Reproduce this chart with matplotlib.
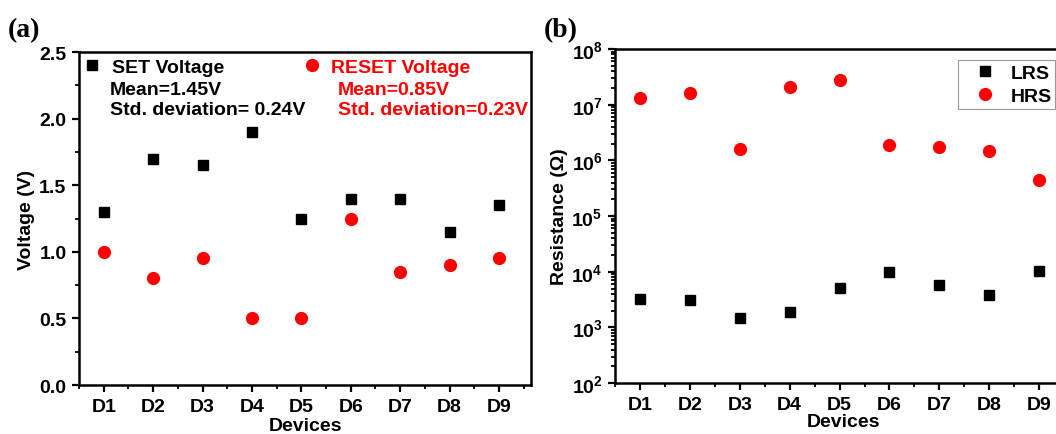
import numpy as np
import matplotlib.pyplot as plt
from matplotlib.ticker import MultipleLocator, FixedLocator, LogLocator, FuncFormatter, NullFormatter
from matplotlib.lines import Line2D

plt.rcParams['font.family'] = ['Liberation Sans', 'DejaVu Sans']
plt.rcParams['font.weight'] = 'bold'
plt.rcParams['mathtext.fontset'] = 'custom'
plt.rcParams['mathtext.rm'] = 'Liberation Sans:bold'
plt.rcParams['mathtext.bf'] = 'Liberation Sans:bold'

devices = ['D1', 'D2', 'D3', 'D4', 'D5', 'D6', 'D7', 'D8', 'D9']
set_v = [1.30, 1.70, 1.65, 1.90, 1.25, 1.40, 1.40, 1.15, 1.35]
reset_v = [1.00, 0.80, 0.95, 0.50, 0.50, 1.25, 0.85, 0.90, 0.95]
lrs = [3.3e3, 3.1e3, 1.5e3, 1.9e3, 5.1e3, 9.8e3, 5.7e3, 3.8e3, 1.05e4]
hrs = [1.3e7, 1.6e7, 1.6e6, 2.1e7, 2.8e7, 1.9e6, 1.75e6, 1.5e6, 4.5e5]

x = np.arange(1, len(devices) + 1)
FS = 14

fig = plt.figure(figsize=(10.56, 4.35), dpi=100)
ax1 = fig.add_axes([0.0748, 0.1126, 0.4282, 0.7654])
ax2 = fig.add_axes([0.5824, 0.117, 0.4324, 0.768])


def style(ax, lp):
    for s in ax.spines.values():
        s.set_linewidth(1.8)
    ax.tick_params(which='major', direction='out', length=5, width=1.6,
                   labelsize=FS, top=False, right=False, pad=4)
    ax.tick_params(which='minor', direction='out', length=3, width=1.3,
                   top=False, right=False)
    ax.set_xlim(0.5, 9.65)
    ax.set_xticks(x)
    ax.set_xticklabels(devices)
    ax.xaxis.set_minor_locator(FixedLocator(np.arange(0.5, 9.6, 1.0)))
    ax.set_xlabel('Devices', fontsize=FS, fontweight='bold', labelpad=lp)


# (a) voltages
ax1.plot(x, set_v, 's', color='black', markersize=7.5, linestyle='none')
ax1.plot(x, reset_v, 'o', color='red', markersize=8.5, linestyle='none')
style(ax1, 1.5)
ax1.set_ylim(0, 2.5)
ax1.yaxis.set_major_locator(MultipleLocator(0.5))
ax1.yaxis.set_minor_locator(MultipleLocator(0.25))
ax1.yaxis.set_major_formatter(FuncFormatter(lambda v, p: '%.1f' % v))
ax1.set_ylabel('Voltage (V)', fontsize=FS, fontweight='bold', labelpad=3)

h_set = Line2D([], [], marker='s', color='black', markersize=7, linestyle='none')
h_reset = Line2D([], [], marker='o', color='red', markersize=8.5, linestyle='none')
leg1 = ax1.legend([h_set], ['SET Voltage'], loc='center left', frameon=False,
                  fontsize=FS, handletextpad=0.43, handlelength=1.2,
                  bbox_to_anchor=(0.003, 0.954), borderaxespad=0, borderpad=0)
ax1.add_artist(leg1)
leg2 = ax1.legend([h_reset], ['RESET Voltage'], loc='center left', frameon=False,
                  fontsize=FS, handletextpad=0.38, handlelength=1.2,
                  bbox_to_anchor=(0.49, 0.954), borderaxespad=0, borderpad=0)
for t in leg2.get_texts():
    t.set_color('red')
ax1.text(0.069, 0.887, 'Mean=1.45V', transform=ax1.transAxes, fontsize=FS,
         fontweight='bold', va='center')
ax1.text(0.069, 0.827, 'Std. deviation= 0.24V', transform=ax1.transAxes,
         fontsize=FS, fontweight='bold', va='center')
ax1.text(0.573, 0.887, 'Mean=0.85V', transform=ax1.transAxes, fontsize=FS,
         fontweight='bold', va='center', color='red')
ax1.text(0.573, 0.827, 'Std. deviation=0.23V', transform=ax1.transAxes,
         fontsize=FS, fontweight='bold', va='center', color='red')

# (b) resistances
ax2.plot(x, lrs, 's', color='black', markersize=7.5, linestyle='none', label='LRS')
ax2.plot(x, hrs, 'o', color='red', markersize=8.5, linestyle='none', label='HRS')
ax2.set_yscale('log')
style(ax2, 0.3)
ax2.set_ylim(1e2, 1e8)
ax2.yaxis.set_major_locator(LogLocator(base=10, numticks=10))
ax2.yaxis.set_minor_locator(LogLocator(base=10, subs=np.arange(2, 10), numticks=20))
ax2.yaxis.set_minor_formatter(NullFormatter())
ax2.yaxis.set_major_formatter(FuncFormatter(lambda v, p: r'$\mathbf{10^{%d}}$' % round(np.log10(v))))
ax2.set_ylabel('Resistance (\u03a9)', fontsize=FS, fontweight='bold', labelpad=2)
leg = ax2.legend(loc='upper left', fontsize=FS, fancybox=False, edgecolor='gray',
                 handletextpad=0.1, handlelength=2.4, borderpad=0.2,
                 labelspacing=0.3, bbox_to_anchor=(0.751, 0.967), borderaxespad=0)
leg.get_frame().set_linewidth(0.8)

fig.text(0.007, 0.915, '(a)', fontsize=20, fontweight='bold', family='Liberation Serif')
fig.text(0.515, 0.915, '(b)', fontsize=20, fontweight='bold', family='Liberation Serif')

fig.savefig('out.png', dpi=100)
